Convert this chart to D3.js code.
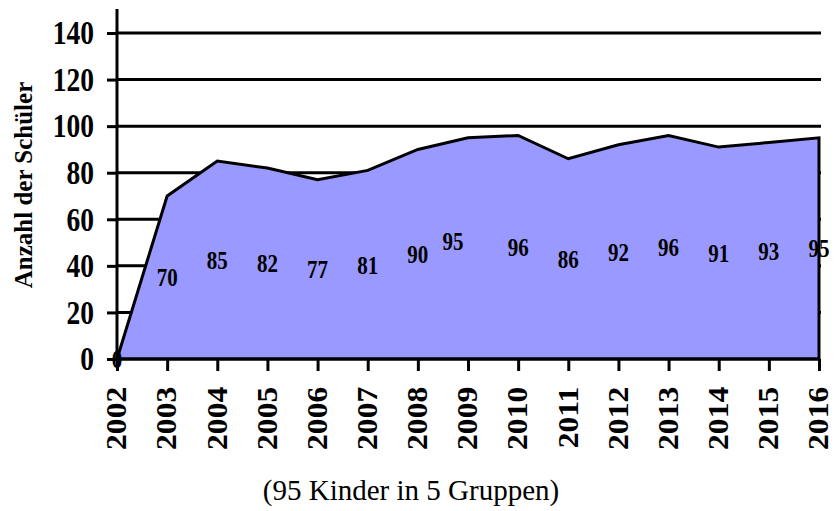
<!DOCTYPE html>
<html>
<head>
<meta charset="utf-8">
<script src="https://cdn.jsdelivr.net/npm/d3@7"></script>
<style>
  html, body { margin: 0; padding: 0; background: #ffffff; }
  svg { display: block; }
  text { font-family: "Liberation Serif", "Times New Roman", serif; }
</style>
</head>
<body>
<svg id="chart" width="836" height="511"></svg>
<script>
const years = [2002, 2003, 2004, 2005, 2006, 2007, 2008, 2009, 2010, 2011, 2012, 2013, 2014, 2015, 2016];
const students = [0, 70, 85, 82, 77, 81, 90, 95, 96, 86, 92, 96, 91, 93, 95];
const yTicks = [0, 20, 40, 60, 80, 100, 120, 140];
const yTitle = "Anzahl der Schüler";
const caption = "(95 Kinder in 5 Gruppen)";

const svg = d3.select("#chart");
const x = d3.scaleLinear().domain([2002, 2016]).range([117, 819]);
const y = d3.scaleLinear().domain([0, 140]).range([359, 33]);

const data = years.map((yr, i) => ({ year: yr, value: students[i] }));

// gridlines (behind the area)
svg.append("g").selectAll("line").data(yTicks.filter(t => t > 0)).join("line")
  .attr("x1", 117).attr("x2", 821)
  .attr("y1", d => y(d)).attr("y2", d => y(d))
  .attr("stroke", "#000").attr("stroke-width", 3);

// area
const area = d3.area().x(d => x(d.year)).y0(y(0)).y1(d => y(d.value));
svg.append("path").datum(data)
  .attr("d", area)
  .attr("fill", "#9999ff")
  .attr("stroke", "#000").attr("stroke-width", 3).attr("stroke-linejoin", "miter");

// Y axis
const yAxis = svg.append("g").attr("transform", "translate(117,0)")
  .call(d3.axisLeft(y).tickValues(yTicks).tickSize(10).tickPadding(13).tickFormat(d3.format("d")));
yAxis.select(".domain").remove();
yAxis.selectAll(".tick line").attr("stroke", "#000").attr("stroke-width", 3);
yAxis.selectAll(".tick text")
  .attr("font-family", "Liberation Serif, Times New Roman, serif")
  .attr("font-size", 27.5).attr("font-weight", "bold").attr("fill", "#000")
  .attr("dy", "0.33em")
  .attr("transform", "scale(1,1.19)");
svg.append("line").attr("x1", 117).attr("x2", 117).attr("y1", 9).attr("y2", y(0))
  .attr("stroke", "#000").attr("stroke-width", 3);

// X axis
const xAxis = svg.append("g").attr("transform", `translate(0,${y(0)})`)
  .call(d3.axisBottom(x).tickValues(years).tickSize(12).tickFormat(d3.format("d")));
xAxis.select(".domain").remove();
xAxis.selectAll(".tick line").attr("stroke", "#000").attr("stroke-width", 3);
xAxis.selectAll(".tick text")
  .attr("font-family", "Liberation Serif, Times New Roman, serif")
  .attr("font-size", 29.5).attr("font-weight", "bold").attr("fill", "#000")
  .attr("transform", "rotate(-90) scale(1.07,1)")
  .attr("text-anchor", "end")
  .attr("x", -26).attr("y", -1).attr("dy", "0.33em");
svg.append("line").attr("x1", 117).attr("x2", 819).attr("y1", y(0)).attr("y2", y(0))
  .attr("stroke", "#000").attr("stroke-width", 3);

// data labels (placed at half the value)
const labelNudge = { 2009: [-15, -7] };
svg.append("g").selectAll("text").data(data).join("text")
  .attr("transform", d => {
    const n = labelNudge[d.year] || [0, 0];
    return `translate(${x(d.year) + n[0]},${y(d.value / 2) + n[1]}) scale(1,1.2)`;
  })
  .attr("dy", "0.35em")
  .attr("text-anchor", "middle")
  .attr("font-size", 21).attr("font-weight", "bold").attr("fill", "#000")
  .text(d => d.value);

// Y title
svg.append("text")
  .attr("transform", "translate(32,185) rotate(-90)")
  .attr("text-anchor", "middle")
  .attr("font-size", 25).attr("font-weight", "bold").attr("fill", "#000")
  .text(yTitle);

// caption
svg.append("text")
  .attr("x", 411).attr("y", 500)
  .attr("text-anchor", "middle")
  .attr("font-size", 29).attr("fill", "#000")
  .text(caption);
</script>
</body>
</html>
